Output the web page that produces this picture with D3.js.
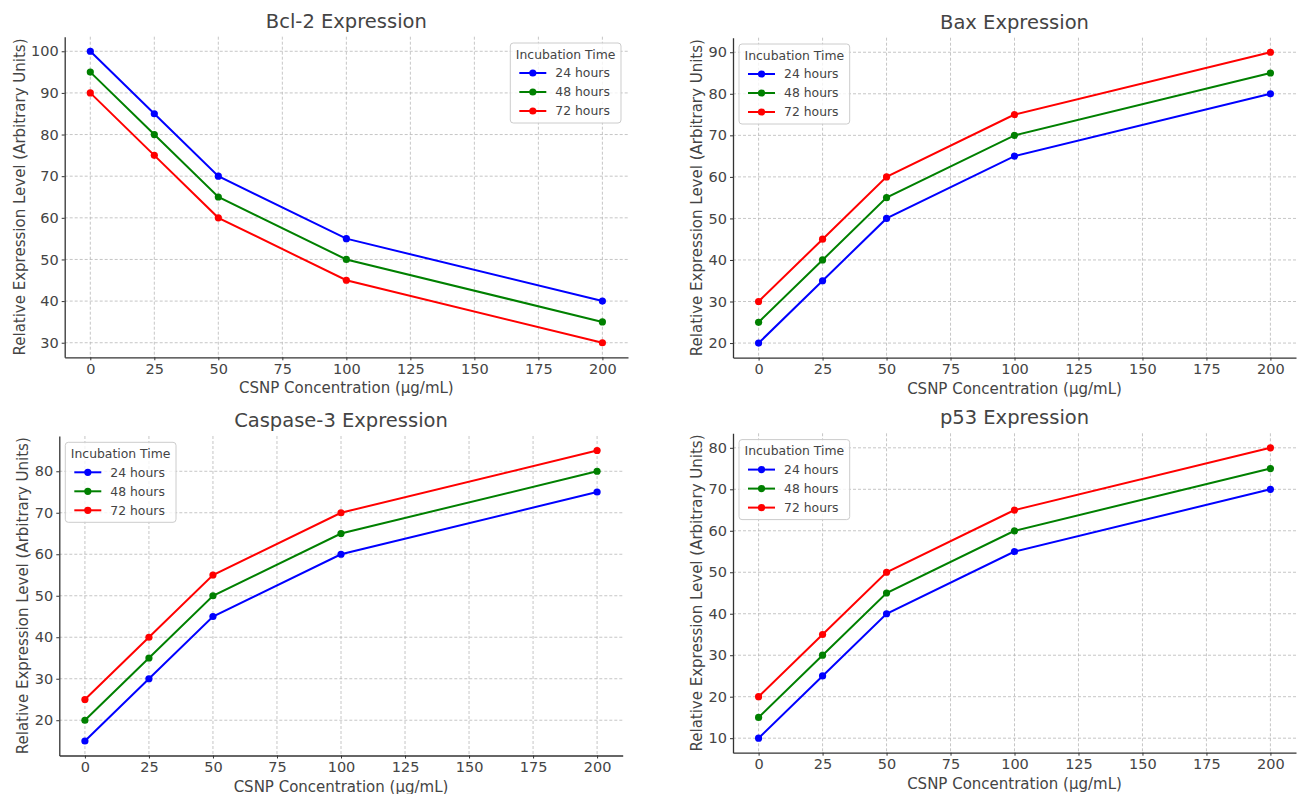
<!DOCTYPE html>
<html>
<head>
<meta charset="utf-8">
<script src="https://cdn.jsdelivr.net/npm/d3@7"></script>
<style>
  body { margin: 0; background: #fff; }
  text { font-family: "DejaVu Sans", sans-serif; fill: #444; }
</style>
</head>
<body>
<div id="my_dataviz"></div>
<script>

// data
var concentrations = [0, 25, 50, 100, 200];
var xTicks = [0, 25, 50, 75, 100, 125, 150, 175, 200];
var seriesNames = ["24 hours", "48 hours", "72 hours"];

var bcl2_24 = [100, 85, 70, 55, 40];
var bcl2_48 = [95, 80, 65, 50, 35];
var bcl2_72 = [90, 75, 60, 45, 30];

var bax_24 = [20, 35, 50, 65, 80];
var bax_48 = [25, 40, 55, 70, 85];
var bax_72 = [30, 45, 60, 75, 90];

var casp3_24 = [15, 30, 45, 60, 75];
var casp3_48 = [20, 35, 50, 65, 80];
var casp3_72 = [25, 40, 55, 70, 85];

var p53_24 = [10, 25, 40, 55, 70];
var p53_48 = [15, 30, 45, 60, 75];
var p53_72 = [20, 35, 50, 65, 80];

var bcl2Ticks = [30, 40, 50, 60, 70, 80, 90, 100];
var baxTicks = [20, 30, 40, 50, 60, 70, 80, 90];
var casp3Ticks = [20, 30, 40, 50, 60, 70, 80];
var p53Ticks = [10, 20, 30, 40, 50, 60, 70, 80];

var colors = ["#0000ff", "#008000", "#ff0000"];

// panels: box of each axes on the page
var panels = [
  {title: "Bcl-2 Expression", series: [bcl2_24, bcl2_48, bcl2_72], yTicks: bcl2Ticks,
   left: 64.7, right: 628, top: 36.7, bottom: 357.3, legend: "right"},
  {title: "Bax Expression", series: [bax_24, bax_48, bax_72], yTicks: baxTicks,
   left: 733, right: 1296, top: 37.7, bottom: 357.6, legend: "left"},
  {title: "Caspase-3 Expression", series: [casp3_24, casp3_48, casp3_72], yTicks: casp3Ticks,
   left: 59.3, right: 622.7, top: 436, bottom: 755.5, legend: "left"},
  {title: "p53 Expression", series: [p53_24, p53_48, p53_72], yTicks: p53Ticks,
   left: 733, right: 1296, top: 433.3, bottom: 752.7, legend: "left"}
];

var svg = d3.select("#my_dataviz")
  .append("svg")
    .attr("width", 1297)
    .attr("height", 794);

panels.forEach(function(p) {
  var width = p.right - p.left,
      height = p.bottom - p.top;

  var g = svg.append("g")
    .attr("transform", "translate(" + p.left + "," + p.top + ")");

  // X scale with matplotlib-like 5% margins
  var x = d3.scaleLinear()
    .domain([-10, 210])
    .range([0, width]);

  var all = d3.merge(p.series);
  var ymin = d3.min(all), ymax = d3.max(all), pad = (ymax - ymin) * 0.05;
  var y = d3.scaleLinear()
    .domain([ymin - pad, ymax + pad])
    .range([height, 0]);

  // grid
  g.append("g")
    .selectAll("line.vg")
    .data(xTicks)
    .enter().append("line")
      .attr("x1", function(d) { return x(d) })
      .attr("x2", function(d) { return x(d) })
      .attr("y1", 0)
      .attr("y2", height)
      .attr("stroke", "#b8b8b8")
      .attr("stroke-width", 0.8)
      .attr("stroke-dasharray", "3,2");
  g.append("g")
    .selectAll("line.hg")
    .data(p.yTicks)
    .enter().append("line")
      .attr("x1", 0)
      .attr("x2", width)
      .attr("y1", function(d) { return y(d) })
      .attr("y2", function(d) { return y(d) })
      .attr("stroke", "#b8b8b8")
      .attr("stroke-width", 0.8)
      .attr("stroke-dasharray", "3,2");

  // axes
  var xAxis = g.append("g")
    .attr("transform", "translate(0," + height + ")")
    .call(d3.axisBottom(x).tickValues(xTicks).tickSize(3).tickPadding(3).tickSizeOuter(0));
  var yAxis = g.append("g")
    .call(d3.axisLeft(y).tickValues(p.yTicks).tickSize(3).tickPadding(3).tickSizeOuter(0));

  [xAxis, yAxis].forEach(function(a) {
    a.select(".domain").attr("stroke", "#333").attr("stroke-width", 1.3);
    a.selectAll(".tick line").attr("stroke", "#333");
    a.selectAll(".tick text")
      .attr("font-family", "DejaVu Sans")
      .attr("font-size", 14.5)
      .attr("fill", "#444");
  });

  // lines + markers
  p.series.forEach(function(vals, i) {
    var pts = concentrations.map(function(c, j) { return {x: c, y: vals[j]} });
    g.append("path")
      .datum(pts)
      .attr("fill", "none")
      .attr("stroke", colors[i])
      .attr("stroke-width", 2)
      .attr("d", d3.line()
        .x(function(d) { return x(d.x) })
        .y(function(d) { return y(d.y) })
        );
    g.selectAll("circle.s" + i)
      .data(pts)
      .enter().append("circle")
        .attr("cx", function(d) { return x(d.x) })
        .attr("cy", function(d) { return y(d.y) })
        .attr("r", 3.6)
        .attr("fill", colors[i]);
  });

  // title
  g.append("text")
    .attr("x", width / 2)
    .attr("y", -9)
    .attr("text-anchor", "middle")
    .attr("font-size", 19.5)
    .text(p.title);

  // axis labels
  g.append("text")
    .attr("x", width / 2)
    .attr("y", height + 36)
    .attr("text-anchor", "middle")
    .attr("font-size", 15)
    .text("CSNP Concentration (\u00b5g/mL)");

  var tickW = d3.max(yAxis.selectAll(".tick text").nodes(), function(n) { return n.getComputedTextLength() });
  g.append("text")
    .attr("transform", "translate(" + (-tickW - 12.5) + "," + (height / 2) + ") rotate(-90)")
    .attr("text-anchor", "middle")
    .attr("font-size", 15)
    .text("Relative Expression Level (Arbitrary Units)");

  // legend
  var lw = 110.7, lh = 80;
  var lx = p.legend == "right" ? width - 7 - lw : 6;
  var lg = g.append("g").attr("transform", "translate(" + lx + ",6.3)");
  lg.append("rect")
    .attr("width", lw)
    .attr("height", lh)
    .attr("rx", 3)
    .attr("fill", "#fff")
    .attr("fill-opacity", 0.8)
    .attr("stroke", "#cccccc");
  lg.append("text")
    .attr("x", lw / 2)
    .attr("y", 15.5)
    .attr("text-anchor", "middle")
    .attr("font-size", 12.4)
    .text("Incubation Time");
  seriesNames.forEach(function(name, i) {
    var cy = 30 + i * 19;
    lg.append("line")
      .attr("x1", 9).attr("x2", 36)
      .attr("y1", cy).attr("y2", cy)
      .attr("stroke", colors[i])
      .attr("stroke-width", 2);
    lg.append("circle")
      .attr("cx", 22.5).attr("cy", cy)
      .attr("r", 3.6)
      .attr("fill", colors[i]);
    lg.append("text")
      .attr("x", 45)
      .attr("y", cy + 4.4)
      .attr("font-size", 12.4)
      .text(name);
  });
});

</script>
</body>
</html>
